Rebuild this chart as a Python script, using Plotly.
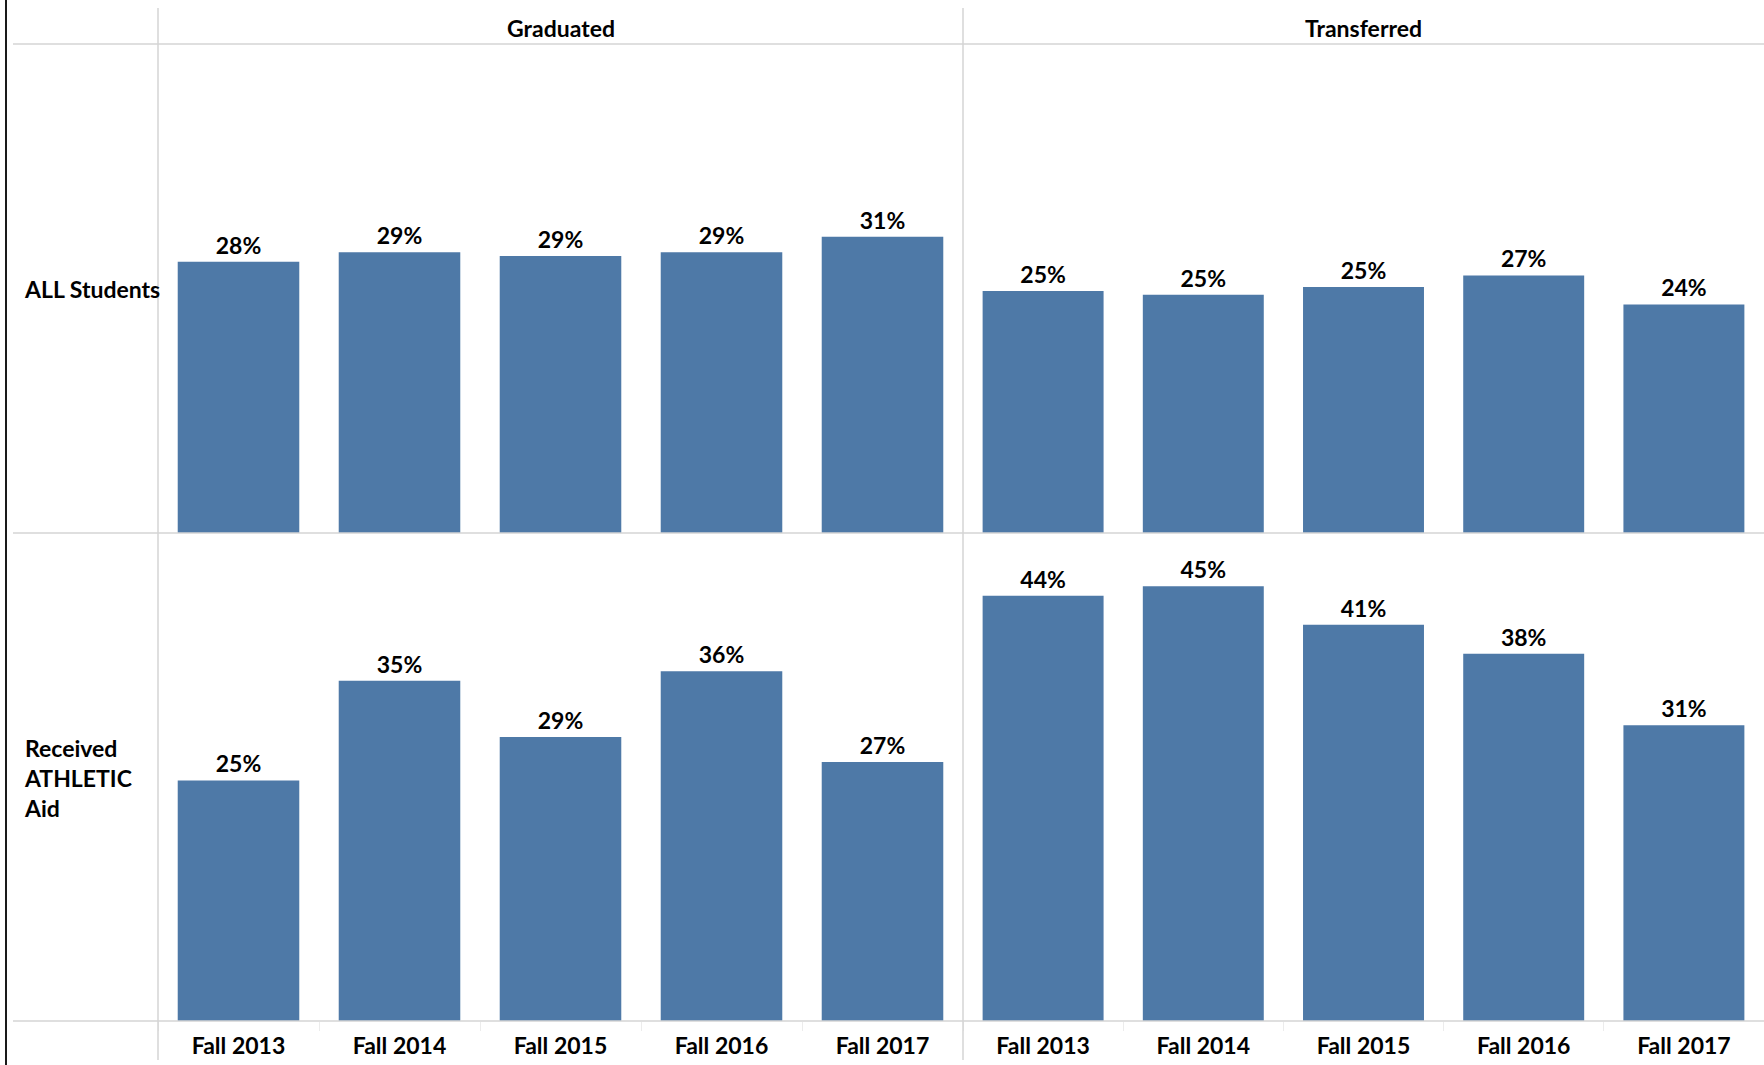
import plotly.graph_objects as go

# ---------------- data ----------------
categories = ["Fall 2013", "Fall 2014", "Fall 2015", "Fall 2016", "Fall 2017"]
col_headers = ["Graduated", "Transferred"]
row_headers = ["ALL Students", "Received<br>ATHLETIC<br>Aid"]

graduated_all = [28.0, 29.0, 28.6, 29.0, 30.6]
transferred_all = [25.0, 24.6, 25.4, 26.6, 23.6]
graduated_athletic = [24.9, 35.2, 29.4, 36.2, 26.8]
transferred_athletic = [44.0, 45.0, 41.0, 38.0, 30.6]

# ---------------- layout constants (pixels) ----------------
W, H = 1764, 1065
X_LEFT, X_MID, X_RIGHT = 158, 963, 1764
Y_HEAD, Y_MID, Y_BOT = 44, 533, 1021
BAR_COLOR = "#4E79A7"
LINE_COLOR = "#d4d4d4"
FONT = dict(family="Lato", size=23, color="#000000", weight="bold")


def px_x(x):
    return x / W


def px_y(y):
    return 1 - y / H


fig = go.Figure()

panels = [
    (graduated_all, "x", "y"),
    (transferred_all, "x2", "y2"),
    (graduated_athletic, "x3", "y3"),
    (transferred_athletic, "x4", "y4"),
]
for vals, xa, ya in panels:
    fig.add_trace(go.Bar(
        x=categories, y=vals, xaxis=xa, yaxis=ya,
        marker=dict(color=BAR_COLOR, line=dict(width=0)),
        texttemplate="%{y:.0f}%", textposition="outside",
        textfont=FONT, cliponaxis=False, showlegend=False,
        hoverinfo="x+y",
    ))

xdom = [[px_x(X_LEFT), px_x(X_MID)], [px_x(X_MID), px_x(X_RIGHT)]]
ydom = [[px_y(Y_MID), px_y(Y_HEAD)], [px_y(Y_BOT), px_y(Y_MID)]]

yrange = [0, 50.5]
axis_common = dict(showgrid=False, zeroline=False, showline=False, fixedrange=True)
for i in range(4):
    r, c = divmod(i, 2)
    suffix = "" if i == 0 else str(i + 1)
    bottom = (r == 1)
    fig.layout["xaxis" + suffix] = dict(
        domain=xdom[c], anchor="y" + suffix, type="category",
        showticklabels=bottom, ticks="outside" if bottom else "",
        tickson="boundaries", ticklen=9, tickcolor="#ececec", tickwidth=1,
        ticklabelstandoff=9,
        tickfont=FONT, **axis_common,
    )
    fig.layout["yaxis" + suffix] = dict(
        domain=ydom[r], anchor="x" + suffix, range=yrange,
        showticklabels=False, **axis_common,
    )

shapes = []
def hline(y, x0, x1, color=LINE_COLOR, width=1.5):
    shapes.append(dict(type="line", xref="paper", yref="paper",
                       x0=px_x(x0), x1=px_x(x1), y0=px_y(y), y1=px_y(y),
                       line=dict(color=color, width=width)))

def vline(x, y0, y1, color=LINE_COLOR, width=1.5):
    shapes.append(dict(type="line", xref="paper", yref="paper",
                       x0=px_x(x), x1=px_x(x), y0=px_y(y0), y1=px_y(y1),
                       line=dict(color=color, width=width)))

hline(Y_HEAD, 13, W)
hline(Y_MID, 13, W)
hline(Y_BOT, 13, W)
vline(X_LEFT, 8, 1060)
vline(X_MID, 8, 1060)
vline(6, 0, H, color="#1a1a1a", width=2)

annotations = []
for c, txt in enumerate(col_headers):
    annotations.append(dict(
        text=txt, xref="paper", yref="paper",
        x=(xdom[c][0] + xdom[c][1]) / 2, y=px_y(28),
        xanchor="center", yanchor="middle", showarrow=False, font=FONT))
for r, txt in enumerate(row_headers):
    annotations.append(dict(
        text=txt, xref="paper", yref="paper",
        x=px_x(22), y=(ydom[r][0] + ydom[r][1]) / 2 - 1 / H,
        xanchor="left", yanchor="middle", align="left",
        showarrow=False, font=FONT))

fig.update_layout(
    width=W, height=H,
    margin=dict(l=0, r=0, t=0, b=0, pad=0),
    paper_bgcolor="white", plot_bgcolor="white",
    bargap=0.245,
    shapes=shapes, annotations=annotations,
    font=dict(family="Lato"),
)

fig.write_html("out.html", config={"displayModeBar": False},
               post_script="document.body.style.margin='0';document.body.style.overflow='hidden';")
